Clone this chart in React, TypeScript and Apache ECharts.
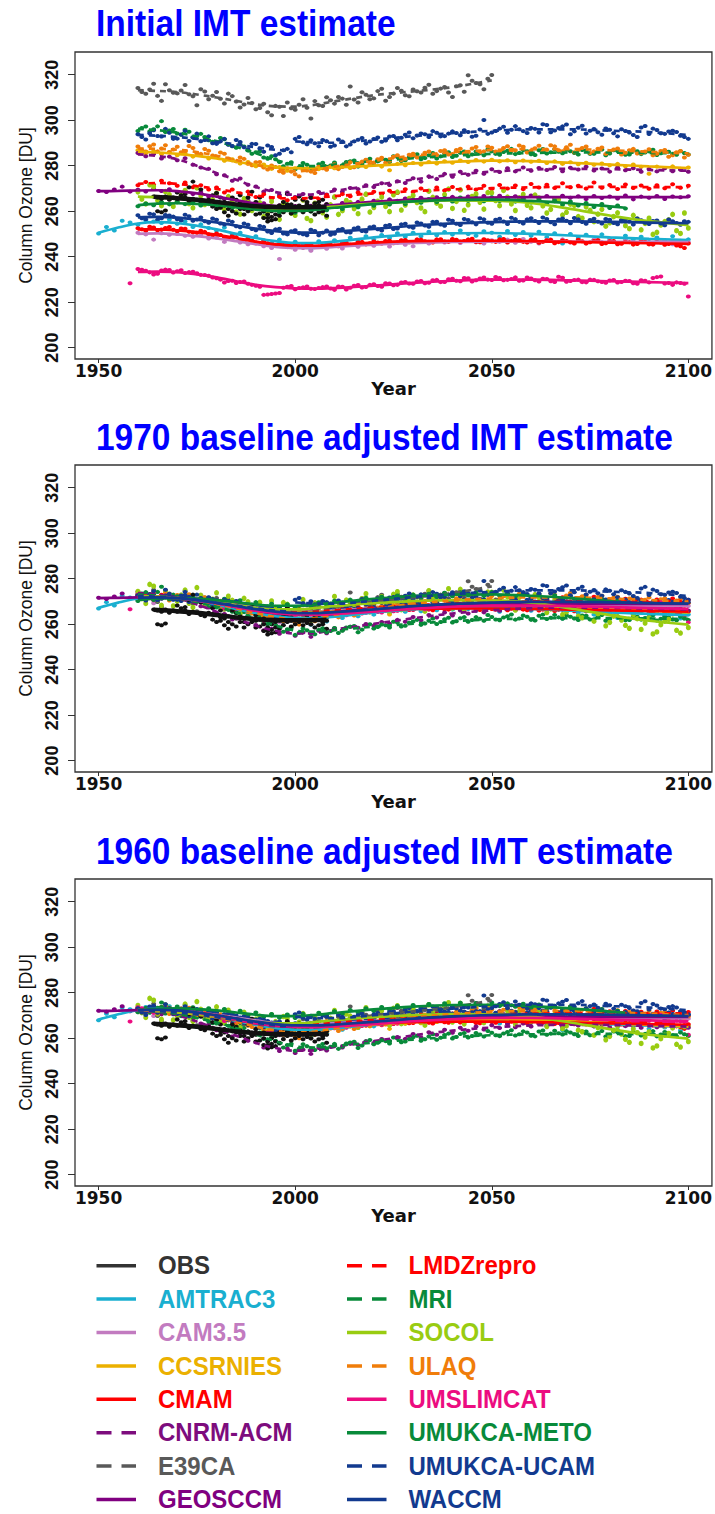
import React, { useEffect, useRef } from "react";
import * as echarts from "echarts";

// ---------------- Models, colours, styles ----------------
const MODELS = ["OBS", "AMTRAC3", "CAM3.5", "CCSRNIES", "CMAM", "CNRM-ACM", "E39CA", "GEOSCCM",
  "LMDZrepro", "MRI", "SOCOL", "ULAQ", "UMSLIMCAT", "UMUKCA-METO", "UMUKCA-UCAM", "WACCM"];
const COLORS = ["#111111", "#1AAFD0", "#C27BC0", "#EBB000", "#FF0000", "#7D0C7D", "#595959", "#800080",
  "#FF0000", "#088A3A", "#99CC11", "#F07D0A", "#EC0C80", "#088A3A", "#123A8F", "#123A8F"];
const LEGEND_COLORS = ["#333333", "#1AAFD0", "#C27BC0", "#EBB000", "#FF0000", "#7D0C7D", "#595959", "#800080",
  "#FF0000", "#088A3A", "#99CC11", "#F07D0A", "#EC0C80", "#088A3A", "#123A8F", "#123A8F"];
const DASHED = [false, false, false, false, false, true, true, false, true, true, false, true, false, false, true, false];

// baseline adjustments (DU added to each model) for the two adjusted panels
const OFFSET_1970 = [0, 16.7, 21.7, -13.7, 19.9, -11.3, -40.9, 2.7, -0.5, -23.1, 5.9, -15.5, 38.3, 8, -21.1, 14.3];
const OFFSET_1960 = [0, 17.7, 22.3, -13.9, 20.3, -12.7, -40.9, 3.2, 0.3, -23.9, 5.9, -15.3, 39, 9.6, -21.3, 15];
const OFFSET_NONE = [0, 0, 0, 0, 0, 0, 0, 0, 0, 0, 0, 0, 0, 0, 0, 0];

const TITLES = ["Initial IMT estimate", "1970 baseline adjusted IMT estimate", "1960 baseline adjusted IMT estimate"];
const X_TICKS = [1950, 2000, 2050, 2100];
const Y_TICKS = [200, 220, 240, 260, 280, 300, 320];

// ---------------- Smoothed curves [year, DU] ----------------
const LINE_OBS = [[1964, 266.3], [1970, 265.7], [1975, 265], [1980, 264], [1985, 263], [1990, 262.2], [1995, 261.8], [2000, 261.7], [2005, 261.8], [2008, 262]];
const LINE_AMTRAC3 = [[1950, 250.5], [1955, 252.8], [1960, 254.6], [1965, 255.2], [1970, 254.8], [1975, 253.6], [1980, 252], [1985, 250], [1990, 248.2], [1995, 246.8], [2000, 246], [2005, 246], [2010, 246.6], [2020, 248.5], [2030, 249.8], [2040, 250.3], [2050, 250.4], [2060, 250], [2070, 249.3], [2080, 248.5], [2090, 247.8], [2100, 247.3]];
const LINE_CAM35 = [[1960, 250], [1965, 250.2], [1970, 249.8], [1975, 249], [1980, 248], [1985, 246.8], [1990, 245.5], [1995, 244.3], [2000, 243.8], [2005, 243.8], [2010, 244.3], [2020, 245.3], [2030, 246], [2040, 246.5], [2050, 246.6], [2060, 246.6], [2070, 246.6], [2080, 246.5], [2090, 246.5], [2100, 246.4]];
const LINE_CCSRNIES = [[1960, 286.2], [1965, 285.8], [1970, 285.2], [1975, 284.3], [1980, 283.2], [1985, 281.8], [1990, 280.4], [1995, 279.3], [2000, 278.9], [2005, 279], [2010, 279.3], [2020, 280], [2030, 281], [2040, 281.7], [2050, 282.2], [2060, 282], [2070, 281.3], [2080, 280.5], [2090, 279.7], [2100, 279]];
const LINE_CMAM = [[1960, 252], [1965, 252], [1970, 251.6], [1975, 250.8], [1980, 249.6], [1985, 248.2], [1990, 246.6], [1995, 245.4], [2000, 244.9], [2005, 244.8], [2010, 245.2], [2020, 246.2], [2030, 246.8], [2040, 247], [2050, 247], [2060, 246.8], [2070, 246.5], [2080, 246.2], [2090, 245.9], [2100, 245.6]];
const LINE_CNRM = [[1960, 285], [1965, 284.3], [1970, 282.8], [1975, 280], [1980, 276.8], [1985, 273.8], [1990, 270.6], [1995, 268.4], [2000, 267.2], [2005, 267.4], [2010, 268.9], [2020, 271.4], [2030, 273.9], [2040, 276], [2050, 277.4], [2060, 278.3], [2070, 278.6], [2080, 278.5], [2090, 278.1], [2100, 277.8]];
const LINE_E39CA = [[1960, 313.2], [1965, 312.9], [1970, 312.4], [1975, 311.3], [1980, 310], [1985, 308.5], [1990, 307], [1995, 306.1], [2000, 306], [2005, 306.8], [2010, 308.3], [2015, 309.7], [2020, 311], [2025, 311.9], [2030, 312.7], [2035, 313.5], [2040, 314.5], [2045, 316], [2050, 317.5]];
const LINE_GEOSCCM = [[1950, 268.8], [1955, 268.9], [1960, 269.1], [1965, 269.2], [1970, 268.8], [1975, 267.8], [1980, 266.4], [1985, 264.8], [1990, 263.3], [1995, 262.2], [2000, 261.8], [2005, 262], [2010, 262.7], [2020, 264.1], [2030, 265.1], [2040, 265.7], [2050, 266], [2060, 266.2], [2070, 266.2], [2080, 266.2], [2090, 266.2], [2100, 266.2]];
const LINE_LMDZ = [[1960, 272], [1965, 272.4], [1970, 272], [1975, 271], [1980, 269.8], [1985, 268.3], [1990, 266.9], [1995, 265.9], [2000, 265.6], [2005, 265.9], [2010, 266.6], [2020, 267.8], [2030, 268.8], [2040, 269.6], [2050, 270.1], [2060, 270.5], [2070, 270.7], [2080, 270.7], [2090, 270.6], [2100, 270.6]];
const LINE_MRI = [[1960, 296.2], [1965, 295.6], [1970, 294.6], [1975, 292.8], [1980, 290.8], [1985, 288.3], [1990, 285.5], [1995, 282.5], [2000, 280.3], [2005, 279.8], [2010, 280.5], [2020, 282], [2030, 283.3], [2040, 284.4], [2050, 285.2], [2060, 285.6], [2070, 285.8], [2080, 285.8], [2090, 285.6], [2100, 285.4]];
const LINE_SOCOL = [[1960, 266.4], [1965, 266.1], [1970, 265.6], [1975, 264.8], [1980, 263.7], [1985, 262.4], [1990, 261.3], [1995, 260.6], [2000, 260.6], [2005, 261.2], [2010, 262], [2020, 263.3], [2030, 264.2], [2040, 264.7], [2050, 264.6], [2060, 263.6], [2070, 261], [2080, 258.1], [2090, 255.6], [2100, 253.9]];
const LINE_ULAQ = [[1960, 287.6], [1965, 287.4], [1970, 287], [1975, 286], [1980, 284.4], [1985, 282.5], [1990, 280.4], [1995, 278.6], [2000, 277.6], [2005, 278.2], [2010, 279.6], [2020, 282.1], [2030, 284.4], [2040, 285.9], [2050, 286.9], [2060, 287.3], [2070, 287.3], [2080, 286.8], [2090, 286.1], [2100, 285.4]];
const LINE_UMSLIMCAT = [[1960, 233.3], [1965, 233.4], [1970, 233.2], [1975, 232.2], [1980, 230.9], [1985, 229.2], [1990, 227.6], [1995, 226.6], [2000, 226.1], [2005, 225.9], [2010, 226.2], [2020, 227.2], [2030, 228.5], [2040, 229.4], [2050, 229.9], [2060, 229.9], [2070, 229.6], [2080, 229.2], [2090, 228.8], [2100, 228.4]];
const LINE_METO = [[1960, 262.7], [1965, 263.3], [1970, 263.5], [1975, 263.2], [1980, 262.6], [1985, 261.7], [1990, 260.7], [1995, 260.1], [2000, 260.1], [2005, 260.6], [2010, 261.5], [2020, 263.1], [2030, 264.3], [2040, 265], [2050, 265.1], [2060, 264.5], [2070, 263.5], [2080, 262.1], [2084, 261.5]];
const LINE_UCAM = [[1960, 293.6], [1965, 293.2], [1970, 292.6], [1975, 291.8], [1980, 290.5], [1985, 289.3], [1990, 288.1], [1995, 287], [1999, 286.6], [1999.5, null], [2000, 290.7], [2005, 290.2], [2010, 290.1], [2020, 291.4], [2030, 293], [2040, 294.3], [2050, 295.3], [2060, 296], [2070, 296], [2080, 295.4], [2090, 294.8], [2100, 293.5]];
const LINE_WACCM = [[1960, 257.3], [1965, 257.5], [1970, 257.2], [1975, 256.3], [1980, 255.1], [1985, 253.7], [1990, 252.3], [1995, 251.2], [2000, 250.6], [2005, 250.6], [2010, 251], [2020, 252.2], [2030, 253.6], [2040, 254.6], [2050, 255.2], [2060, 255.5], [2070, 255.5], [2080, 255.3], [2090, 255], [2100, 254.7]];

// ---------------- Annual values (DU) ----------------
const OBS_A = [266.5, 266, 265.5, 266.5, 265, 266, 265.5, 267, 266, 264.5, 265.5, 265, 264, 263.5, 265, 264.5, 264, 263, 262.5, 261, 263, 262.5, 263.5, 261, 263, 262.5, 261.5, 262, 260, 258.5, 260, 261, 261.5, 262, 263, 261.5, 262, 262.5, 261.5, 263, 262, 261.5, 262.5, 261, 261.5]; // 1964-2008
const OBS_B = [267, 268, 266, 264, 263.5, 266, 265, 267, 262.5, 266, 268.5, 264, 266, 262.5, 257, 257.5, 258.5, 262.5, 264, 267.5, 263, 265, 266.5, 265, 264, 266, 263.5, 264, 265, 263]; // 1979-2008
const OBS_C = [262, 261, 261.5, 259.5, 258, 260, 259, 261, 258.5, 260, 261, 258.5, 259, 257, 255.5, 256, 256.5, 258, 259.5, 261, 259, 260, 261, 259.5, 260.5, 260, 258.5, 259.5, 260, 258]; // 1979-2008
const OBS_EXTRA = [[1965, 260], [1966, 259.5], [1967, 260.3], [1970, 268.2], [1972, 267.5], [1973, 270.5], [1974, 273], [1976, 269.5]];

const AMTRAC3_PTS = [250.2, 253, 251.5, 255.8, 255, 254, 256, 255.5, 254.8, 256.3, 254.5, 255.5, 253, 254.2, 252.6, 251.5, 252.8, 249.6, 250.5, 248, 249, 247.2, 246, 247.5, 245.5, 246.6, 245, 243, 246.8, 244.5, 247.2, 246, 248.3, 246.8, 249, 247.5, 249.5, 248.2, 250.3, 248.8, 250.5, 249, 251, 249.4, 250.8, 249.7, 251.5, 250, 249.2, 251.2, 250.5, 248.8, 251.3, 249.5, 250.8, 249.2, 251, 248.5, 250.3, 245.8, 250, 248.2, 249.6, 247.5, 249.8, 248, 246, 249.2, 247.6, 248.8, 246.5, 248.4, 247, 249, 245.8, 247.6]; // 1950-2100 /2
const CAM35_PTS = [250.5, 249.8, 247.5, 250.3, 249.6, 250, 249.2, 248.8, 249.5, 248, 248.4, 246.5, 247.8, 246.2, 245.5, 245.8, 244.6, 243.8, 239, 244.2, 243, 243.8, 242.6, 244.4, 243.5, 244.8, 243.6, 245.2, 244.4, 245.6, 244.8, 246, 244.5, 246.3, 245.2, 244.6, 246.5, 245.8, 247, 246.2, 247.3, 246, 247.6, 246.3, 245.8, 247.2, 246.5, 247.5, 246.1, 247.8, 246.6, 245.8, 247.3, 246.4, 247.6, 246.2, 247, 245.9, 247.5, 246.4, 247.2, 246, 247.4, 246.3, 247.1, 246, 247.3, 246.5, 245.5, 247, 246.3]; // 1960-2100 /2
const CCSRNIES_PTS = [286.8, 285.5, 286.4, 285, 286, 284.6, 285.5, 284, 284.8, 283.2, 283.8, 282.2, 282.8, 281, 281.6, 279.8, 280.5, 278.6, 279.4, 277.8, 278.9, 278.2, 279.3, 278.5, 279.6, 278.9, 279.8, 279, 280.1, 279.4, 280.3, 279.6, 278, 280.8, 280.2, 281.2, 280.5, 281.6, 281, 282, 281.3, 282.3, 281.6, 282.5, 281.8, 282.6, 281.9, 282.4, 281.5, 282.3, 281.7, 282.2, 281.2, 281.9, 280.8, 281.5, 280.6, 281.3, 280.4, 281, 280.2, 280.8, 279.8, 280.5, 279.5, 276.5, 279.6, 279, 279.7, 278.6, 279.2]; // 1960-2100 /2
const CMAM_PTS_EVEN = [252.5, 251.4, 252.8, 251.9, 253, 251.2, 252.3, 250.6, 251.4, 249.8, 250.2, 248.5, 249.1, 247.3, 247.9, 246.2, 246.8, 245.1, 245.7, 244.4, 245.3, 244.1, 245.2, 244.3, 245.6, 244.8, 245.9, 245.2, 246.3, 245.4, 246.7, 245.8, 247, 246.2, 247.3, 246.4, 247.5, 246.5, 247.6, 246.7, 247.8, 246.6, 247.5, 246.4, 247.7, 246.8, 247.6, 246.2, 247.4, 246.5, 247.5, 246.1, 247.2, 245.9, 247.1, 246.3, 247.4, 245.8, 246.9, 245.6, 246.8, 245.5, 246.6, 245.3, 246.7, 245.4, 246.5, 245.2, 246.3, 244.6, 245.8]; // 1960-2100 /2
const CMAM_PTS_ODD = [252.1, 253.2, 251.6, 252.6, 251.8, 252.4, 251, 250.5, 250.9, 249.4, 249.5, 248.2, 248.6, 246.9, 247.1, 245.8, 245.9, 244.8, 245.1, 244.2, 244.6, 245.5, 244.2, 244.9, 245.3, 244.6, 246.1, 245.1, 246.5, 245.9, 246.2, 246.9, 245.9, 247.2, 246.3, 247.6, 246.8, 246.2, 247.7, 246.5, 247.4, 246.9, 247.9, 246.3, 247.2, 246.5, 247.8, 246.9, 247.3, 246.2, 247.6, 246.5, 247.5, 246.4, 246.9, 245.8, 246.8, 246.3, 247.3, 245.9, 246.9, 245.7, 246.4, 245.6, 246.6, 245.3, 246.2, 245.6, 244.9, 243.8]; // 1961-2099 /2
const CNRM_PTS = [285.6, 284.2, 285.1, 283.2, 284, 282.4, 283.3, 280.4, 279.2, 278.6, 276.2, 275.8, 273.4, 274.4, 271.6, 270.9, 268.6, 269.3, 267.1, 268.2, 266.2, 267.6, 265.8, 268.4, 267.3, 269.5, 268.6, 270.2, 269.7, 271.4, 270.6, 272.3, 271.5, 273.2, 272.4, 274.5, 273, 275.3, 274.2, 276.4, 275.1, 277.3, 276, 277.8, 276.5, 278.4, 277.2, 278.9, 277.5, 279.2, 277.8, 279, 278.1, 279.4, 277.6, 279.1, 278.3, 279.5, 277.9, 278.8, 277.4, 279.2, 278, 278.9, 277.3, 278.6, 277.5, 278.9, 277.6, 278.2, 277.3]; // 1960-2100 /2
const E39CA_PTS_EVEN = [314.2, 311.6, 316, 308.5, 313.2, 311.8, 315.5, 310.5, 313.6, 309.2, 312.4, 307.4, 310.6, 305.6, 309.8, 304.8, 307.2, 302.2, 305.9, 307.8, 304.6, 309.2, 300.8, 306.6, 310.1, 307.3, 309.5, 314.8, 307.8, 311.2, 309.6, 313.8, 310.2, 314.2, 311, 313.5, 312.2, 315.6, 312.8, 314.6, 310.2, 315.4, 319.8, 316.4, 313.6, 319.9]; // 1960-2050 /2
const E39CA_PTS_ODD = [312.4, 313.5, 310.7, 315.8, 312.1, 313.1, 311.4, 306.6, 312.6, 310.8, 309.4, 311.7, 308.2, 306.9, 307.6, 305.4, 303.5, 306.3, 301.9, 305.3, 306.8, 305.5, 308.4, 306.3, 308.8, 310.2, 306.8, 309.1, 312.3, 309.2, 312.8, 308.6, 311.7, 313, 310.5, 312.7, 314.3, 311.6, 313.9, 312.2, 314.9, 312.5, 317.4, 315.8, 318.2]; // 1961-2049 /2
const GEOSCCM_PTS = [268.9, 268.4, 269.5, 270.8, 268.6, 269.4, 268.7, 269.8, 268.9, 269.6, 268.4, 269, 267.6, 268.3, 266.5, 267, 265.4, 265.8, 264.1, 264.6, 262.8, 263.5, 261.9, 262.6, 261.2, 262.3, 261, 262.4, 261.6, 263.2, 262.2, 263.6, 262.9, 264.1, 263.5, 264.6, 263.7, 265.2, 264.3, 265.6, 264.7, 265.9, 264.9, 266.1, 265.2, 266.3, 265.3, 266.5, 265.6, 266.7, 265.5, 266.8, 265.7, 266.6, 265.4, 266.9, 265.8, 266.7, 265.5, 266.8, 265.9, 266.6, 265.3, 266.7, 265.8, 266.5, 265.6, 266.9, 265.2, 266.4, 265.9, 266.7, 265.4, 266.5, 266.1, 266.6]; // 1950-2100 /2
const LMDZ_PTS = [271.4, 272.8, 271.6, 273.4, 272.3, 271.2, 272.6, 270.5, 271.4, 269.5, 270.4, 268.2, 269.5, 267.8, 268.6, 266.2, 267.4, 265.6, 266.3, 264.8, 265.9, 264.9, 266.3, 265.4, 267.1, 266, 267.5, 266.6, 268.2, 267.2, 268.5, 267.4, 269, 268, 269.6, 268.4, 270, 268.8, 270.4, 269.1, 270.6, 269.3, 270.8, 269.5, 271.2, 269.8, 271.5, 270, 271.3, 269.7, 272, 270.4, 271.6, 270.2, 272.3, 270.5, 271.2, 270, 272.6, 270.3, 271.5, 269.8, 271.7, 270.2, 271.3, 269.9, 271.4, 270.1, 271.8, 270.3, 271.2]; // 1960-2100 /2
const MRI_PTS_EVEN = [295.3, 297.2, 296, 299.6, 295.5, 294.2, 295.8, 292.5, 294, 291.2, 290.4, 291.6, 288.6, 289.3, 286.7, 285.9, 283.6, 284.2, 281.6, 280.9, 278.4, 281.2, 279, 280.6, 279.5, 281.4, 280.2, 282, 279.6, 282.4, 281.2, 283, 281.6, 283.8, 282.4, 284.3, 282.8, 284.6, 283.2, 285.3, 283.8, 285.7, 284.2, 286.2, 284.6, 286.3, 284.8, 286.6, 285.1, 286.9, 285, 286.8, 285.4, 287.2, 285.5, 286.4, 284.9, 286.8, 285.3, 287.1, 285.4, 286.5, 284.8, 286.7, 285.1, 286.3, 284.7, 286.6, 285.2, 286.4, 284.9]; // 1960-2100 /2
const MRI_PTS_ODD = [296.6, 295.1, 297.3, 294.8, 296.1, 293.6, 294.9, 293.1, 292.6, 290.5, 292.2, 289.4, 287.9, 288.4, 285.3, 286.4, 283.1, 282.8, 279.8, 281.5, 279.3, 280.4, 278.7, 281.3, 280.1, 279.2, 281.6, 282.3, 280.7, 283.1, 281.9, 282.6, 284.2, 282.1, 283.7, 285, 283.4, 285.6, 284.1, 285.9, 284.4, 286.2, 284.9, 285.5, 287.1, 285.2, 286, 287.4, 285.6, 286.4, 284.7, 287.3, 285.9, 286.1, 287, 285.6, 286.9, 285.2, 286.3, 284.6, 286.8, 285.7, 284.9, 286.4, 285.8, 287, 285.5, 286.1, 284.8, 285.6]; // 1961-2099 /2
const SOCOL_PTS_EVEN = [268.5, 263.2, 270.8, 262.4, 267.3, 264.2, 269.1, 261.5, 266.8, 263.4, 267.9, 260.8, 264.6, 258.7, 263.9, 262.5, 257.6, 264.3, 256.4, 262.8, 258.2, 264.9, 255.8, 262.1, 257.4, 266.3, 260.2, 263.8, 258.9, 267.5, 261.6, 266.2, 259.8, 268.4, 262.7, 266.9, 261.4, 268.8, 263.5, 267.3, 261.2, 269.4, 262.8, 267.6, 260.9, 268.1, 262.4, 266.2, 260.3, 267.4, 261.5, 265.8, 259.2, 264.6, 258.3, 263.1, 257.6, 261.9, 255.4, 260.8, 254.9, 259.3, 253.6, 258.2, 251.8, 256.9, 250.7, 255.4, 258.6, 250.2, 252.6]; // 1960-2100 /2
const SOCOL_PTS_ODD = [265.3, 271.6, 264.8, 268.6, 262.1, 266.9, 263.3, 270.2, 262.9, 265.1, 261.8, 266.4, 259.6, 265.5, 260.3, 263.7, 258.9, 261.4, 263.6, 259.1, 261.2, 256.8, 263.5, 259.3, 262.8, 258.6, 264.7, 261.1, 265.3, 259.6, 264.4, 262.1, 267.2, 260.5, 265.6, 263.8, 259.8, 266.1, 262.2, 269.7, 264.3, 260.4, 266.5, 263.9, 268.2, 264.7, 269.1, 263.2, 265.9, 262.6, 267.1, 262.3, 260.8, 265.2, 259.5, 262.6, 256.9, 260.4, 258.7, 253.4, 257.6, 255.9, 252.3, 256.5, 254.6, 249.8, 253.9, 256.2, 251.4, 259.2]; // 1961-2099 /2
const ULAQ_PTS_EVEN = [288.4, 286.2, 289.3, 287.6, 285.9, 288.3, 286.5, 287.8, 285.2, 286.6, 283.9, 285.3, 282.4, 283.6, 280.8, 281.5, 279.2, 280.1, 277.6, 278.9, 276.2, 278.6, 277.4, 279.5, 278.2, 280.6, 279.4, 281.5, 280.2, 282.6, 281.4, 283.5, 282.2, 284.6, 283.1, 285.3, 283.8, 286.2, 284.7, 286.8, 285.1, 287.5, 285.9, 288.2, 286.3, 287.9, 286.4, 288.6, 286.8, 288.3, 286.6, 288.8, 287, 288.5, 286.4, 289.2, 286.9, 288.4, 286.3, 288, 286.1, 287.6, 285.7, 287.4, 285.5, 287.2, 285.3, 286.9, 284.6, 286.5, 284.8]; // 1960-2100 /2
const ULAQ_PTS_ODD = [286.9, 288.6, 286.3, 289, 287.1, 285.9, 288.7, 285.4, 287.3, 284.5, 285.8, 283.2, 281.9, 283, 280.2, 281.6, 278.3, 279.4, 276.9, 277.4, 275.3, 277.9, 276.8, 278.9, 279.6, 278.5, 280.9, 279.3, 281.8, 280.7, 282.8, 281.3, 283.9, 282.5, 284.8, 283.6, 285.7, 284.1, 286.5, 284.9, 286.9, 285.4, 287.6, 285.9, 288.4, 286.2, 287.8, 286.5, 288.9, 285.8, 287.7, 286.2, 289, 286.8, 288.1, 285.9, 287.8, 285.6, 287.5, 285.2, 287.1, 284.9, 286.8, 285.4, 286.2, 284.6, 286.5, 283.9, 285.9, 283.6]; // 1961-2099 /2
const UMSLIMCAT_PTS_EVEN = [228.3, 234.6, 233.8, 232.2, 233.9, 234.1, 233.6, 232.8, 233.4, 232, 231.6, 230.5, 228.6, 229.4, 228.9, 228.1, 227.2, 223.2, 223.6, 224, 226.8, 225.7, 226.5, 225.9, 226.2, 226.9, 225.4, 226.8, 226.3, 227.5, 226.7, 227.9, 226.8, 228.2, 227.6, 228.9, 228.1, 229.3, 228.5, 229.8, 228.9, 230.3, 229.2, 230.5, 229.6, 230.8, 229.7, 230.6, 229.8, 230.9, 229.5, 230.4, 229.1, 230.2, 228.9, 230.7, 229.3, 229.9, 228.7, 229.8, 228.9, 229.5, 228.6, 229.4, 228.3, 229.6, 228.7, 231, 228.2, 227.6, 228.4, 222.5]; // 1958-2100 /2
const UMSLIMCAT_PTS_ODD = [234.2, 233.1, 232.5, 234.3, 233, 234, 233.2, 232.7, 231.9, 230.8, 229.9, 229.3, 228.4, 229.1, 227.6, 226.8, 223.4, 223.8, 226.3, 227.1, 226.2, 226.9, 225.8, 226.6, 226, 226.9, 225.6, 227.2, 226.4, 227.6, 227.1, 228.3, 227.4, 228.6, 228.2, 229.1, 228.3, 229.6, 228.8, 230.1, 229.4, 230.6, 229.1, 230.4, 229.9, 231.1, 229.6, 230.2, 229.4, 230.8, 229.6, 230.3, 229.2, 231.2, 229, 229.7, 228.8, 229.9, 229.2, 228.5, 229.7, 228.9, 229.3, 228.1, 229.4, 230.6, 231.3, 228.4, 228.7, 228.1]; // 1961-2099 /2
const METO_PTS = [262.2, 263.4, 262.6, 264.1, 263, 264.3, 263.1, 264, 262.5, 263.6, 262.1, 263.2, 261.4, 262.5, 260.6, 261.7, 259.8, 261, 259.4, 260.8, 259.3, 261.1, 259.9, 261.6, 260.4, 262.3, 261, 262.8, 261.7, 263.6, 262.4, 264.1, 262.9, 264.6, 263.2, 265, 263.7, 265.4, 264, 265.8, 264.3, 266, 264.6, 265.9, 264.4, 266.1, 264.5, 265.7, 264.2, 265.5, 263.8, 265.2, 263.4, 264.7, 262.8, 264.3, 262.5, 263.6, 261.8, 263.2, 261.4, 262.5, 261.2]; // 1960-2084 /2
const UCAM_PTS_EVEN = [293.8, 291.5, 295.6, 292.8, 294.5, 291.9, 295.3, 292.4, 290.8, 292.9, 289.6, 291.8, 288.7, 290.4, 287.2, 289.5, 286.1, 288.2, 285.3, 287.4, 291.8, 290.3, 291.2, 288.6, 290.8, 288.9, 290.6, 289.3, 291.4, 289.8, 291.7, 290.5, 292.8, 291.2, 293.6, 292.1, 294.2, 292.6, 294.5, 293, 295.1, 293.4, 294.8, 293.2, 300.1, 294.6, 296.3, 294.5, 297.4, 295.2, 296.6, 294.6, 297.9, 295.5, 297.3, 293.8, 296.7, 294.2, 296.1, 293.6, 295.8, 292.9, 295.3, 293.5, 296.8, 293.9, 295.7, 294, 295.4, 293.2, 291.8]; // 1960-2100 /2
const UCAM_PTS_ODD = [292.6, 294.3, 293.1, 296.2, 291.8, 293.7, 290.9, 294.1, 291.3, 289.9, 290.8, 289.2, 291.3, 288.1, 289.6, 287.6, 288.9, 284.6, 286.8, 285.9, 292.6, 289.4, 289.9, 291.3, 288.3, 291.5, 288.5, 290.7, 292.2, 290.6, 292.4, 291.1, 293.1, 292.3, 294.6, 293.3, 293.8, 295.2, 292.9, 294.1, 294.4, 295.6, 292.7, 295.9, 294, 295.3, 297.1, 295.8, 296, 294.4, 296.2, 298.2, 294.7, 296.6, 298.1, 295.1, 297.6, 295.4, 294.7, 296.4, 294.3, 296, 294.6, 292.6, 297.5, 296.3, 294.3, 295, 294.8, 292.6]; // 1961-2099 /2
const WACCM_PTS_EVEN = [258.2, 256.4, 258.6, 256.9, 258.1, 256.5, 258.4, 255.8, 257.2, 254.9, 256.2, 254.1, 255.3, 252.9, 254, 251.6, 253.1, 250.4, 252.3, 249.8, 251.6, 249.9, 251.8, 249.4, 251.5, 250.1, 252.2, 250.6, 252.8, 251.1, 253.3, 251.5, 253.9, 252.4, 254.5, 252.7, 254.6, 253.2, 255.4, 253.6, 255.8, 253.9, 256.1, 254.2, 256.4, 254.5, 256.7, 254.4, 256.5, 254.6, 256.9, 254.8, 256.6, 254.3, 256.8, 254.7, 256.4, 254.5, 256.7, 254.6, 256.2, 254.3, 256.5, 254.1, 256, 254.4, 255.9, 253.8, 255.6, 254, 255.3]; // 1960-2100 /2
const WACCM_PTS_ODD = [256.9, 258.9, 256.2, 258.3, 257.6, 255.9, 257.8, 256.3, 255.6, 256.8, 254.6, 255.9, 253.4, 254.6, 252.2, 253.5, 251.1, 252, 250.2, 251.2, 250.3, 249.4, 251.3, 250.5, 249.6, 251.8, 250.7, 252.4, 251.3, 252.9, 252.1, 253.6, 252.2, 254.2, 253.2, 255, 253.7, 255.3, 254.1, 256.2, 254.5, 256.6, 255.1, 256.9, 254.9, 256.2, 255.5, 257.1, 255.3, 256.4, 255.7, 257.2, 255.1, 256.3, 255.8, 257, 255.2, 256.1, 255.4, 256.6, 254.8, 256.1, 255.5, 256.8, 254.9, 255.7, 254.6, 256.3, 254.8, 255.6]; // 1961-2099 /2

// ---------------- assembly tables ----------------
// [first year, step in years, values]
const POINT_SETS: any[][] = [
  [[1964, 1, OBS_A], [1979, 1, OBS_B], [1979, 1, OBS_C]],
  [[1950, 2, AMTRAC3_PTS]],
  [[1960, 2, CAM35_PTS]],
  [[1960, 2, CCSRNIES_PTS]],
  [[1960, 2, CMAM_PTS_EVEN], [1961, 2, CMAM_PTS_ODD]],
  [[1960, 2, CNRM_PTS]],
  [[1960, 2, E39CA_PTS_EVEN], [1961, 2, E39CA_PTS_ODD]],
  [[1950, 2, GEOSCCM_PTS]],
  [[1960, 2, LMDZ_PTS]],
  [[1960, 2, MRI_PTS_EVEN], [1961, 2, MRI_PTS_ODD]],
  [[1960, 2, SOCOL_PTS_EVEN], [1961, 2, SOCOL_PTS_ODD]],
  [[1960, 2, ULAQ_PTS_EVEN], [1961, 2, ULAQ_PTS_ODD]],
  [[1958, 2, UMSLIMCAT_PTS_EVEN], [1961, 2, UMSLIMCAT_PTS_ODD]],
  [[1960, 2, METO_PTS]],
  [[1960, 2, UCAM_PTS_EVEN], [1961, 2, UCAM_PTS_ODD]],
  [[1960, 2, WACCM_PTS_EVEN], [1961, 2, WACCM_PTS_ODD]],
];
const EXTRA_POINTS: any[] = [OBS_EXTRA, [], [], [], [], [], [], [], [], [], [], [], [], [], [], []];
const LINES: any[] = [LINE_OBS, LINE_AMTRAC3, LINE_CAM35, LINE_CCSRNIES, LINE_CMAM, LINE_CNRM, LINE_E39CA, LINE_GEOSCCM,
  LINE_LMDZ, LINE_MRI, LINE_SOCOL, LINE_ULAQ, LINE_UMSLIMCAT, LINE_METO, LINE_UCAM, LINE_WACCM];

// ---------------- layout ----------------
const W = 715;
const H = 1514;
const GRID_TOPS = [52, 465, 879];
const TITLE_Y = [23.5, 437.5, 851];
const PANEL_OFFSETS = [OFFSET_NONE, OFFSET_1970, OFFSET_1960];

function pointsOf(m: number, off: number) {
  const out: any[] = [];
  for (const [start, step, vals] of POINT_SETS[m]) {
    (vals as number[]).forEach((v, i) => out.push([start + i * step, +(v + off).toFixed(2)]));
  }
  for (const [x, v] of EXTRA_POINTS[m]) out.push([x, +(v + off).toFixed(2)]);
  return out;
}

function buildOption() {
  const grid: any[] = [];
  const xAxis: any[] = [];
  const yAxis: any[] = [];
  const series: any[] = [];
  const graphic: any[] = [];
  const order = [1, 2, 3, 4, 5, 6, 7, 8, 9, 10, 11, 12, 13, 14, 15, 0];

  GRID_TOPS.forEach((top, p) => {
    grid.push({ left: 75, top, width: 637, height: 307, show: true, borderColor: "#333", borderWidth: 1.3, backgroundColor: "transparent" });
    xAxis.push({
      type: "value", gridIndex: p, min: 1944, max: 2106,
      axisLine: { show: false }, splitLine: { show: false },
      axisTick: { show: true, customValues: X_TICKS, length: 4, lineStyle: { color: "#333" } },
      axisLabel: {
        customValues: X_TICKS, margin: 3, color: "#111", fontFamily: "'DejaVu Sans', sans-serif", fontWeight: "bold", fontSize: 17,
        formatter: (v: number) => String(v),
      },
      name: "Year", nameLocation: "middle", nameGap: 18,
      nameTextStyle: { color: "#111", fontFamily: "'DejaVu Sans', sans-serif", fontWeight: "bold", fontSize: 18 },
    });
    yAxis.push({
      type: "value", gridIndex: p, min: 195, max: 330,
      axisLine: { show: false }, splitLine: { show: false },
      axisTick: { show: true, customValues: Y_TICKS, length: 7, lineStyle: { color: "#333" } },
      axisLabel: {
        customValues: Y_TICKS, rotate: 90, margin: 14, color: "#111",
        fontFamily: "'Liberation Sans Narrow', 'Arial Narrow', 'Liberation Sans', sans-serif", fontWeight: "bold", fontSize: 18,
        formatter: (v: number) => String(v),
      },
      name: "Column Ozone [DU]", nameLocation: "middle", nameGap: 40,
      nameTextStyle: { color: "#111", fontFamily: "'Liberation Sans Narrow', 'Arial Narrow', 'Liberation Sans', sans-serif", fontSize: 17.5 },
    });

    const offs = PANEL_OFFSETS[p];
    order.forEach((m) => {
      series.push({
        type: "scatter", xAxisIndex: p, yAxisIndex: p, name: MODELS[m], silent: true, z: 2,
        symbol: "circle", symbolSize: m === 10 ? [5, 5.5] : [5, 4],
        itemStyle: { color: COLORS[m], opacity: 1 },
        data: pointsOf(m, offs[m]),
      });
    });
    order.forEach((m) => {
      series.push({
        type: "line", xAxisIndex: p, yAxisIndex: p, name: MODELS[m] + " fit", silent: true, z: 3,
        smooth: 0.35, showSymbol: false, connectNulls: false,
        lineStyle: { color: COLORS[m], width: m === 0 ? 4.5 : 2.7, type: DASHED[m] ? [6, 5] : "solid" },
        data: LINES[m].map(([x, v]: any) => [x, v == null ? null : +(v + offs[m]).toFixed(2)]),
      });
    });

    graphic.push({
      type: "text", x: 96, y: TITLE_Y[p], scaleY: 1.12,
      style: { text: TITLES[p], fill: "#0000ff", font: "bold 33.5px 'Liberation Sans', Arial, sans-serif", align: "left", verticalAlign: "middle" },
    });
  });

  // legend (two columns of eight)
  MODELS.forEach((name, i) => {
    const col = i < 8 ? 0 : 1;
    const row = i % 8;
    const y = 1265.7 + row * 33.4;
    const lx = col === 0 ? 96.5 : 347;
    const tx = col === 0 ? 158 : 408.5;
    graphic.push({
      type: "line", shape: { x1: lx, y1: y, x2: lx + 39.5, y2: y },
      style: { stroke: LEGEND_COLORS[i], lineWidth: 3.5, lineDash: DASHED[i] ? [15, 10] : null },
    });
    graphic.push({
      type: "text", x: tx, y, scaleY: 1.06,
      style: { text: name, fill: LEGEND_COLORS[i], font: "bold 24px 'Liberation Sans', Arial, sans-serif", align: "left", verticalAlign: "middle" },
    });
  });

  return { animation: false, backgroundColor: "#ffffff", grid, xAxis, yAxis, series, graphic };
}

export default function App() {
  const ref = useRef<HTMLDivElement>(null);
  useEffect(() => {
    document.body.style.margin = "0";
    const chart = echarts.init(ref.current as HTMLDivElement, null, { renderer: "svg" });
    chart.setOption(buildOption() as any);
    return () => chart.dispose();
  }, []);
  return <div ref={ref} style={{ width: W, height: H }} />;
}
